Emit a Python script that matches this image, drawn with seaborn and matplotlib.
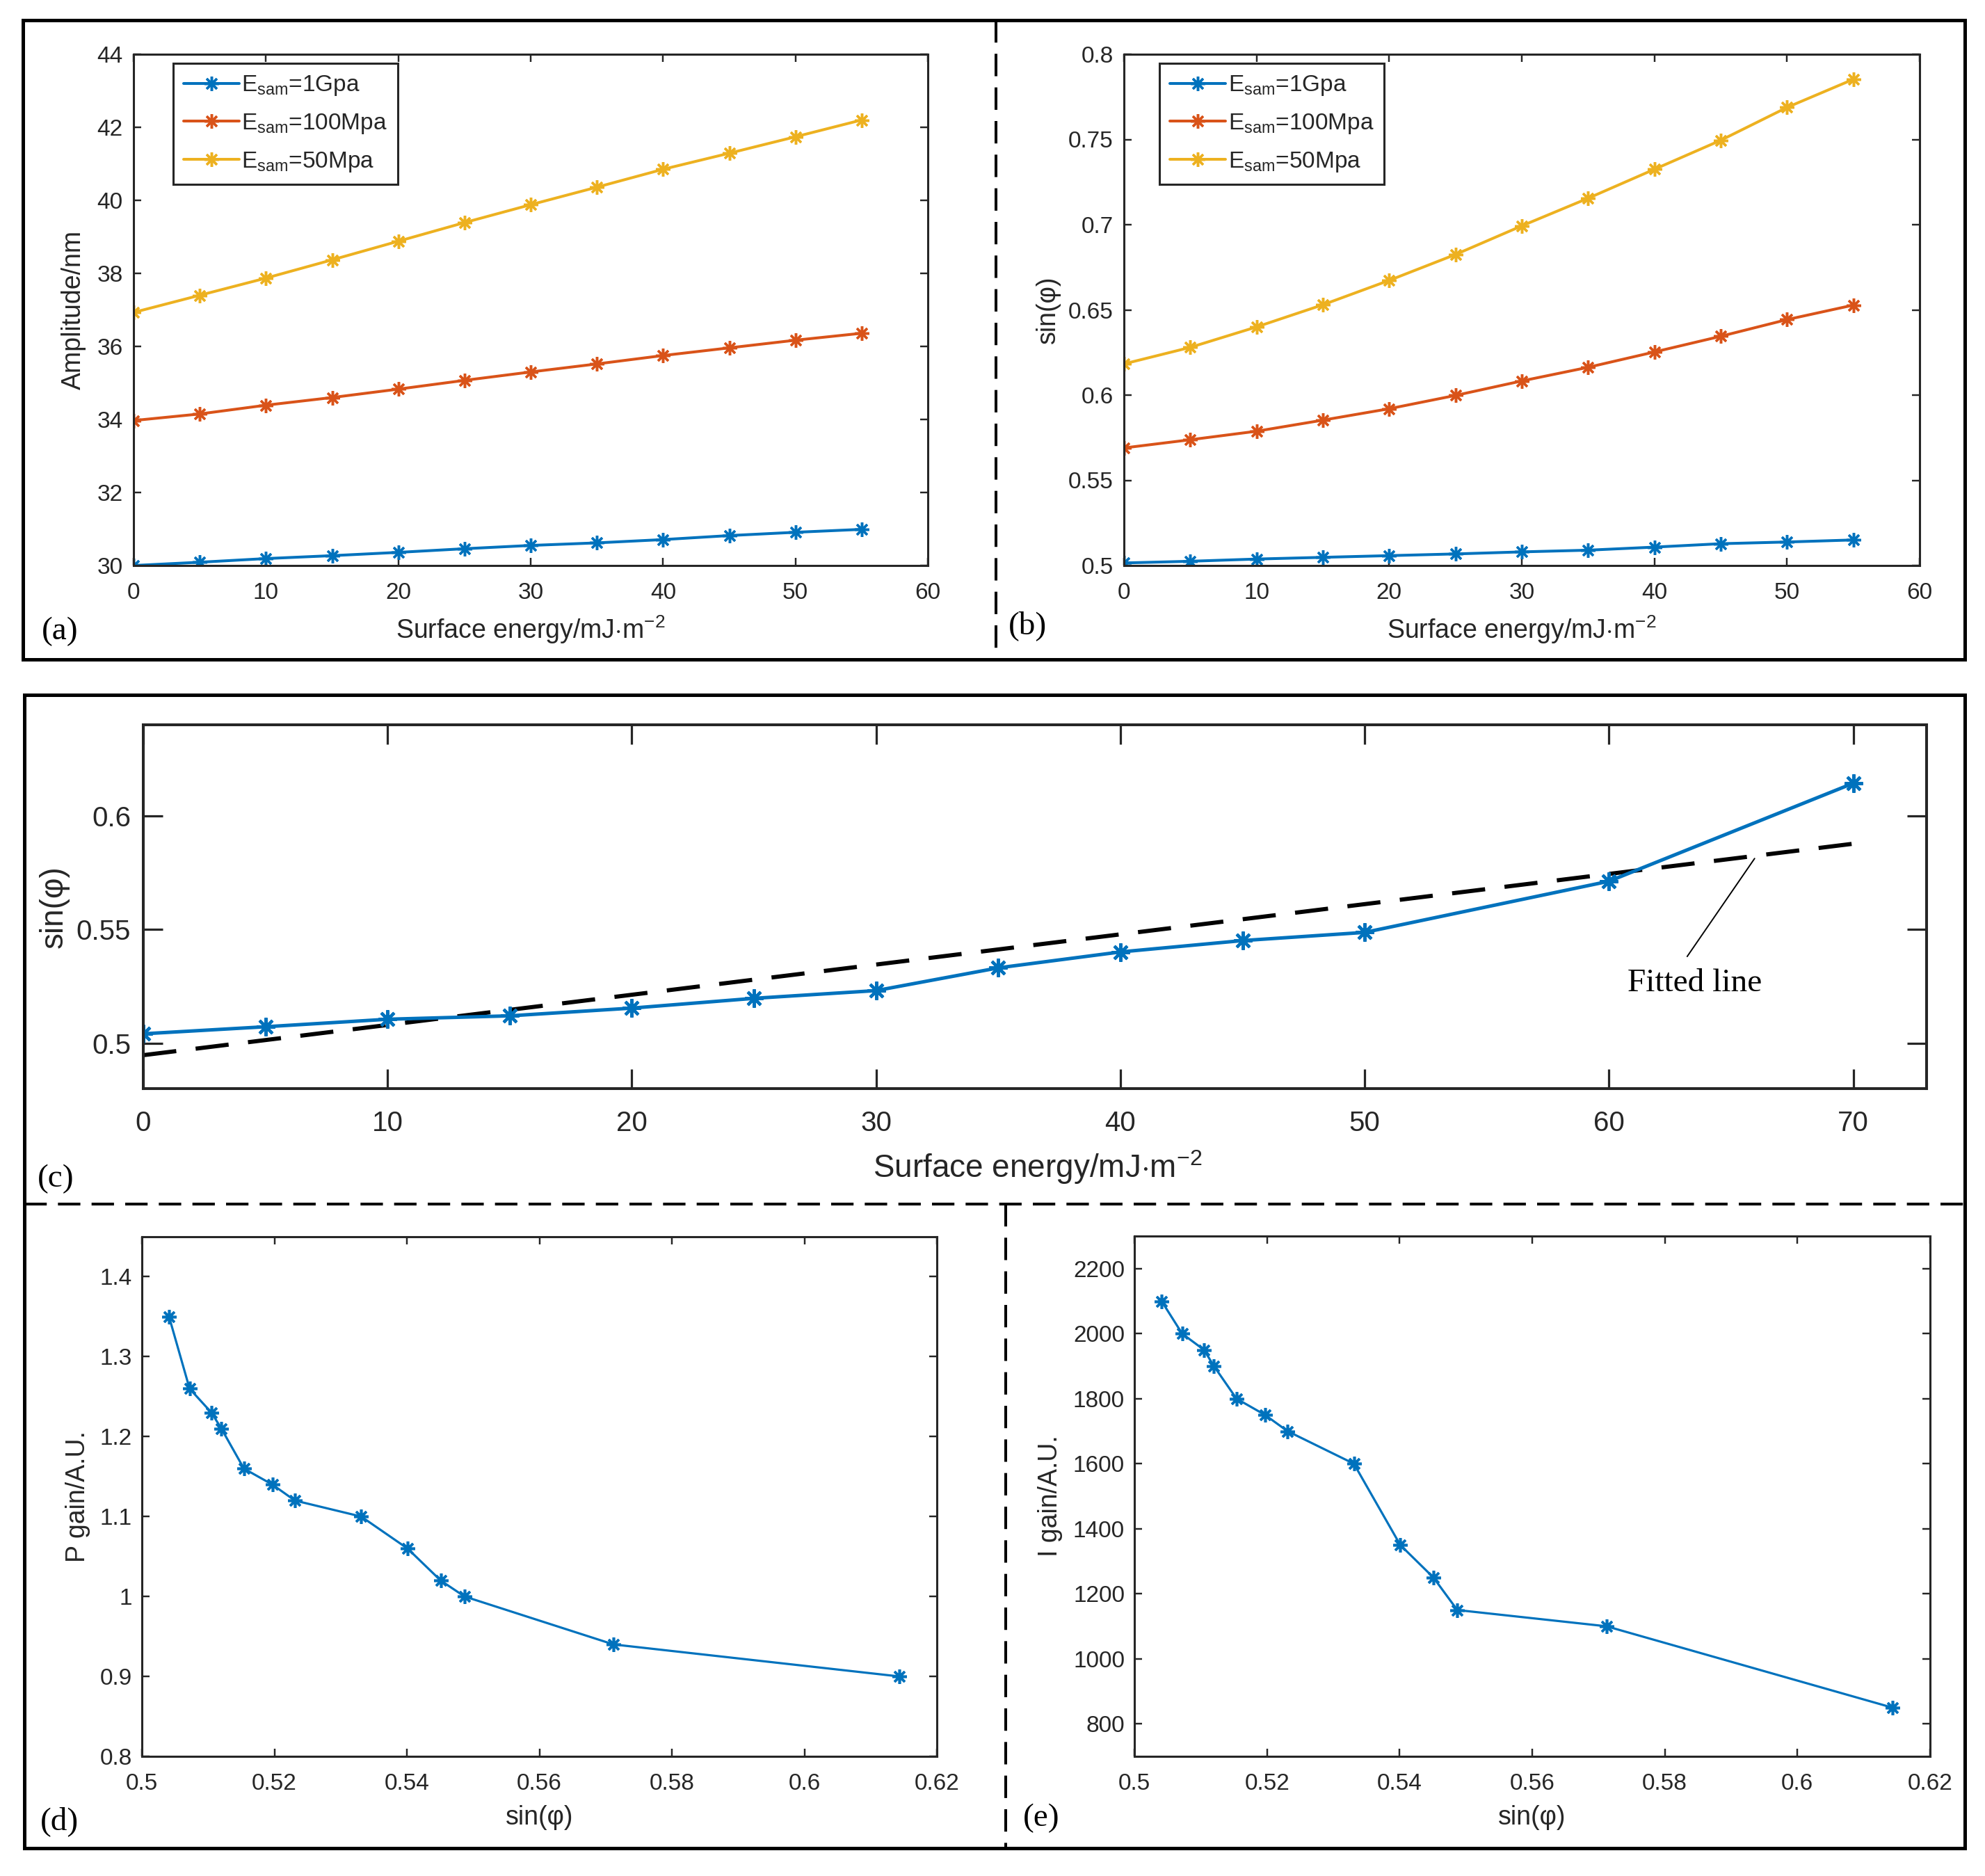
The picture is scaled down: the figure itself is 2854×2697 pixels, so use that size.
import numpy as np
import pandas as pd
import seaborn as sns
import matplotlib.pyplot as plt
from matplotlib.lines import Line2D
from matplotlib.patches import Rectangle
from matplotlib.ticker import FuncFormatter

# values
energy_ab = [0, 5, 10, 15, 20, 25, 30, 35, 40, 45, 50, 55]
amp_1gpa = [30.00, 30.09, 30.19, 30.27, 30.36, 30.46, 30.55, 30.62, 30.71, 30.82, 30.91, 30.99]
amp_100mpa = [33.97, 34.15, 34.39, 34.60, 34.83, 35.07, 35.30, 35.52, 35.75, 35.96, 36.17, 36.36]
amp_50mpa = [36.93, 37.40, 37.87, 38.37, 38.88, 39.39, 39.88, 40.36, 40.85, 41.29, 41.74, 42.20]
sin_1gpa = [0.5015, 0.5025, 0.5038, 0.5048, 0.5058, 0.5068, 0.5080, 0.5090, 0.5108, 0.5128, 0.5138, 0.5150]
sin_100mpa = [0.5690, 0.5738, 0.5788, 0.5853, 0.5920, 0.5998, 0.6083, 0.6163, 0.6253, 0.6345, 0.6443, 0.6528]
sin_50mpa = [0.6183, 0.6280, 0.6400, 0.6530, 0.6673, 0.6825, 0.6993, 0.7155, 0.7325, 0.7495, 0.7688, 0.7853]
series_labels = [r'E$_{\rm sam}$=1Gpa', r'E$_{\rm sam}$=100Mpa', r'E$_{\rm sam}$=50Mpa']

energy_c = [0, 5, 10, 15, 20, 25, 30, 35, 40, 45, 50, 60, 70]
sin_c = [0.5041, 0.5072, 0.5105, 0.5120, 0.5154, 0.5197, 0.5231, 0.5331, 0.5401, 0.5451, 0.5487, 0.5712, 0.6143]
fit_x = [0, 70]
fit_y = [0.4947, 0.5877]

p_gain = [1.35, 1.26, 1.23, 1.21, 1.16, 1.14, 1.12, 1.10, 1.06, 1.02, 1.00, 0.94, 0.90]
i_gain = [2100, 2000, 1950, 1900, 1800, 1750, 1700, 1600, 1350, 1250, 1150, 1100, 850]

colors = ['#0072BD', '#D95319', '#EDB120']
ink = '#262626'
star = (8, 2, 0)

W, H = 2854, 2697

sns.set_style('ticks')
plt.rcParams['font.family'] = ['Liberation Sans', 'DejaVu Sans']
plt.rcParams['mathtext.fontset'] = 'custom'
plt.rcParams['mathtext.rm'] = 'Liberation Sans'
plt.rcParams['mathtext.it'] = 'Liberation Sans:italic'
plt.rcParams['mathtext.bf'] = 'Liberation Sans:bold'
plt.rcParams['text.color'] = ink
plt.rcParams['axes.labelcolor'] = ink

fig = plt.figure(figsize=(W / 100, H / 100), dpi=100)


def px_axes(x0, y0, x1, y1):
    return fig.add_axes([x0 / W, 1 - y1 / H, (x1 - x0) / W, (y1 - y0) / H])


def style(ax, tsize, tlen, xpad, ypad, sw):
    ax.tick_params(direction='in', top=True, right=True, length=tlen, width=sw * 0.8,
                   labelsize=tsize, colors=ink)
    ax.tick_params(axis='x', pad=xpad)
    ax.tick_params(axis='y', pad=ypad)
    for s in ax.spines.values():
        s.set_linewidth(sw)
        s.set_color(ink)
    ax.grid(False)


def add_legend(ax, loc, anchor):
    leg = ax.legend(loc=loc, bbox_to_anchor=anchor, fancybox=False,
                    edgecolor=ink, framealpha=1, fontsize=24, handlelength=2.4,
                    handletextpad=0.1, labelspacing=0.62, borderpad=0.45, borderaxespad=0)
    leg.get_frame().set_linewidth(2.2)


fmt = FuncFormatter(lambda v, p: f'{v:g}')

# (a)
ax_a = px_axes(192, 78, 1334, 813)
for vals, c, lab in zip([amp_1gpa, amp_100mpa, amp_50mpa], colors, series_labels):
    sns.lineplot(x=energy_ab, y=vals, ax=ax_a, color=c, linewidth=2.9, marker=star,
                 markersize=15, markeredgecolor=c, markeredgewidth=2.5, label=lab)
ax_a.set_xlim(0, 60)
ax_a.set_ylim(30, 44)
ax_a.set_xticks(np.arange(0, 61, 10))
ax_a.set_yticks(np.arange(30, 45, 2))
style(ax_a, 24, 8, 17, 11, 2.2)
ax_a.set_xlabel(r'Surface energy/mJ$\cdot$m$^{-2}$', fontsize=27)
ax_a.set_ylabel('Amplitude/nm', fontsize=27)
ax_a.xaxis.set_label_coords(0.5, -0.094)
ax_a.yaxis.set_label_coords(-0.0595, 0.5)
add_legend(ax_a, 'upper left', (0.0499, 0.982))

# (b)
ax_b = px_axes(1616, 78, 2760, 813)
for vals, c, lab in zip([sin_1gpa, sin_100mpa, sin_50mpa], colors, series_labels):
    sns.lineplot(x=energy_ab, y=vals, ax=ax_b, color=c, linewidth=2.9, marker=star,
                 markersize=15, markeredgecolor=c, markeredgewidth=2.5, label=lab)
ax_b.set_xlim(0, 60)
ax_b.set_ylim(0.5, 0.8)
ax_b.set_xticks(np.arange(0, 61, 10))
ax_b.set_yticks(np.arange(0.5, 0.801, 0.05))
ax_b.yaxis.set_major_formatter(fmt)
style(ax_b, 24, 8, 17, 11, 2.2)
ax_b.set_xlabel(r'Surface energy/mJ$\cdot$m$^{-2}$', fontsize=27)
ax_b.set_ylabel('sin(φ)', fontsize=27)
ax_b.xaxis.set_label_coords(0.5, -0.094)
ax_b.yaxis.set_label_coords(-0.0795, 0.5)
add_legend(ax_b, 'upper center', (0.186, 0.982))

# (c)
ax_c = px_axes(206, 1042, 2770, 1565)
sns.lineplot(x=fit_x, y=fit_y, ax=ax_c, color='black', linewidth=4.3,
             linestyle=(0, (8, 4.7)))
sns.lineplot(x=energy_c, y=sin_c, ax=ax_c, color=colors[0], linewidth=3.6, marker=star,
             markersize=19, markeredgecolor=colors[0], markeredgewidth=3.0)
ax_c.set_xlim(0, 73)
ax_c.set_ylim(0.48, 0.64)
ax_c.set_xticks(np.arange(0, 71, 10))
ax_c.set_yticks([0.5, 0.55, 0.6])
ax_c.yaxis.set_major_formatter(fmt)
style(ax_c, 29, 20, 22, 13, 2.9)
ax_c.set_xlabel(r'Surface energy/mJ$\cdot$m$^{-2}$', fontsize=33)
ax_c.set_ylabel('sin(φ)', fontsize=33)
ax_c.xaxis.set_label_coords(0.5015, -0.164)
ax_c.yaxis.set_label_coords(-0.0413, 0.5)
ax_c.annotate('', xy=(65.96, 0.5812), xytext=(63.2, 0.5381),
              arrowprops=dict(arrowstyle='-', color='black', lw=1.4, shrinkA=0, shrinkB=0))
ax_c.text(63.5, 0.5262, 'Fitted line', ha='center', va='center', fontsize=34,
          family=['Liberation Serif', 'DejaVu Serif'], color='black')

# (d)
ax_d = px_axes(204, 1778, 1347, 2525)
sns.lineplot(x=sin_c, y=p_gain, ax=ax_d, color=colors[0], linewidth=2.3, marker=star,
             markersize=15, markeredgecolor=colors[0], markeredgewidth=2.6)
ax_d.set_xlim(0.5, 0.62)
ax_d.set_ylim(0.8, 1.45)
ax_d.set_xticks(np.arange(0.5, 0.621, 0.02))
ax_d.set_yticks(np.arange(0.8, 1.401, 0.1))
ax_d.xaxis.set_major_formatter(fmt)
ax_d.yaxis.set_major_formatter(fmt)
style(ax_d, 24, 8, 17, 10, 2.2)
ax_d.set_xlabel('sin(φ)', fontsize=27)
ax_d.set_ylabel('P gain/A.U.', fontsize=27)
ax_d.xaxis.set_label_coords(0.5, -0.0937)
ax_d.yaxis.set_label_coords(-0.0647, 0.5)

# (e)
ax_e = px_axes(1631, 1777, 2775, 2525)
sns.lineplot(x=sin_c, y=i_gain, ax=ax_e, color=colors[0], linewidth=2.3, marker=star,
             markersize=15, markeredgecolor=colors[0], markeredgewidth=2.6)
ax_e.set_xlim(0.5, 0.62)
ax_e.set_ylim(700, 2300)
ax_e.set_xticks(np.arange(0.5, 0.621, 0.02))
ax_e.set_yticks(np.arange(800, 2201, 200))
ax_e.xaxis.set_major_formatter(fmt)
style(ax_e, 24, 8, 17, 10, 2.2)
ax_e.set_xlabel('sin(φ)', fontsize=27)
ax_e.set_ylabel('I gain/A.U.', fontsize=27)
ax_e.xaxis.set_label_coords(0.5, -0.0937)
ax_e.yaxis.set_label_coords(-0.090, 0.5)

# frames and dashed dividers
for x0, y0, x1, y1 in [(33, 29, 2825, 948), (35, 999, 2825, 2657)]:
    fig.add_artist(Rectangle((x0 / W, 1 - y1 / H), (x1 - x0) / W, (y1 - y0) / H,
                             transform=fig.transFigure, fill=False, edgecolor='black',
                             linewidth=3.6))
for x0, y0, x1, y1 in [(1432, 29, 1432, 948), (35, 1731, 2825, 1731), (1446, 1731, 1446, 2657)]:
    fig.add_artist(Line2D([x0 / W, x1 / W], [1 - y0 / H, 1 - y1 / H], transform=fig.transFigure,
                          color='black', linewidth=2.9, linestyle=(0, (8, 4))))

# panel letters
for lab, x, y in [('(a)', 86, 908), ('(b)', 1477, 900), ('(c)', 80, 1695),
                  ('(d)', 85, 2619), ('(e)', 1497, 2614)]:
    fig.text(x / W, 1 - y / H, lab, ha='center', va='center', fontsize=34,
             family=['Liberation Serif', 'DejaVu Serif'], color='black')

fig.savefig('out.png', dpi=100)
